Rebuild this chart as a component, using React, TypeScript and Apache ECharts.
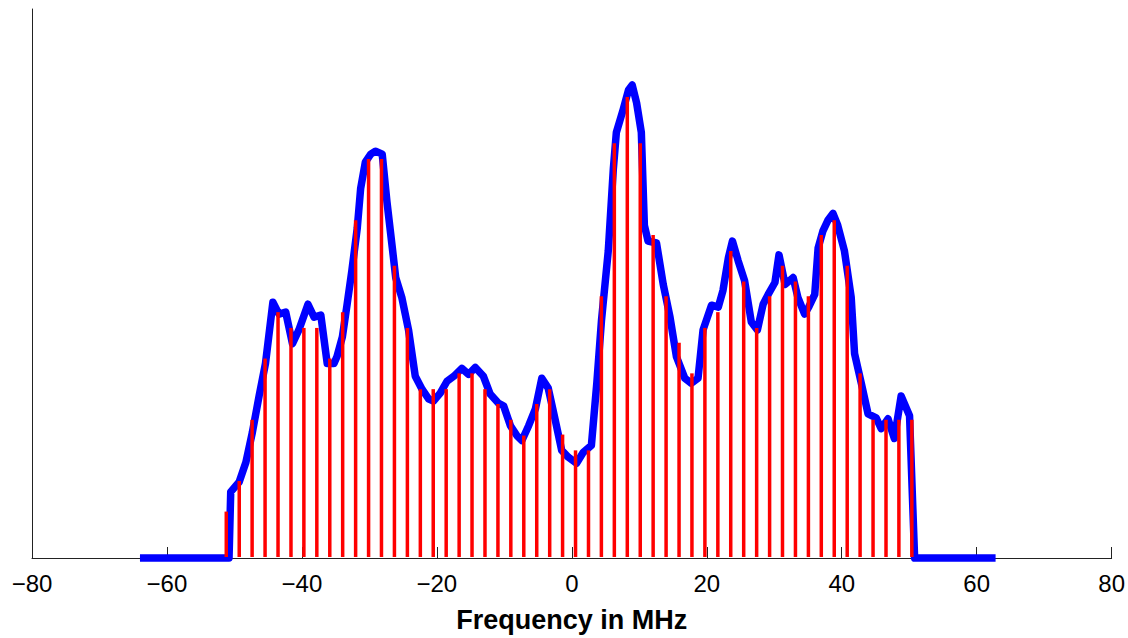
import React, { useEffect, useRef } from "react";
import * as echarts from "echarts";

// Tick labels of the frequency axis (MHz)
const xTicks = [-80, -60, -40, -20, 0, 20, 40, 60, 80];

// Red stems: subcarrier frequencies (MHz) and their magnitudes (arbitrary units)
const stemFreq = [
  -51.21, -49.29, -47.38, -45.46, -43.54, -41.62, -39.71, -37.79, -35.87, -33.96,
  -32.04, -30.12, -28.21, -26.29, -24.37, -22.45, -20.54, -18.62, -16.7, -14.79,
  -12.87, -10.95, -9.04, -7.12, -5.2, -3.28, -1.37, 0.55, 2.47, 4.38,
  6.3, 8.22, 10.14, 12.05, 13.97, 15.89, 17.8, 19.72, 21.64, 23.55,
  25.47, 27.39, 29.31, 31.22, 33.14, 35.06, 36.97, 38.89, 40.81, 42.72,
  44.64, 46.56, 48.47, 50.39,
];
const stemLevel = [
  47, 78, 140, 202, 249, 233, 233, 233, 202, 249,
  342, 404, 404, 296, 233, 171, 171, 171, 187, 187,
  171, 156, 140, 124, 156, 171, 125, 109, 109, 265,
  420, 467, 420, 327, 265, 218, 187, 233, 249, 311,
  280, 233, 265, 296, 280, 265, 327, 342, 296, 187,
  140, 140, 140, 140,
];

// Blue envelope: frequency (MHz) and level (same units as the stems)
const blueFreq = [
  -64.0, -50.8, -50.55, -49.3, -48.3, -47.35, -46.35, -45.4, -44.3, -43.4,
  -42.4, -41.4, -40.45, -39.1, -38.2, -37.2, -36.25, -35.25, -34.8, -34.0,
  -33.3, -32.6, -31.8, -31.3, -30.6, -29.8, -29.1, -28.1, -27.4, -26.6,
  -26.1, -25.2, -24.2, -23.2, -22.2, -21.2, -20.5, -19.5, -18.5, -17.5,
  -16.3, -15.3, -14.3, -13.1, -12.1, -10.9, -10.1, -9.1, -8.15, -7.4,
  -6.4, -5.4, -4.45, -3.5, -2.5, -1.5, -0.5, 0.7, 1.7, 2.9,
  3.7, 4.4, 5.4, 6.15, 6.6, 7.6, 8.4, 8.95, 9.6, 10.3,
  10.75, 11.3, 12.55, 13.55, 14.55, 15.5, 16.75, 17.7, 18.7, 19.45,
  20.7, 21.7, 22.4, 23.2, 23.8, 24.65, 25.6, 26.6, 27.5, 28.35,
  29.1, 30.1, 30.7, 31.6, 32.8, 33.5, 34.5, 35.1, 36.0, 36.5,
  37.2, 37.95, 38.7, 39.4, 40.4, 41.4, 41.9, 42.9, 43.9, 45.1,
  45.85, 46.85, 47.8, 48.8, 50.05, 50.8, 62.8,
];
const blueLevel = [
  0, 0, 67, 77, 97, 127, 164, 197, 259, 247,
  249, 217, 231, 257, 244, 246, 197, 197, 204, 224,
  257, 291, 334, 374, 401, 409, 412, 409, 361, 314,
  284, 264, 231, 184, 171, 161, 159, 167, 179, 184,
  192, 186, 193, 184, 166, 157, 154, 134, 124, 119,
  134, 151, 182, 172, 141, 109, 102, 96, 107, 114,
  177, 241, 311, 394, 431, 454, 474, 479, 461, 431,
  337, 321, 319, 277, 244, 204, 182, 177, 182, 231,
  256, 254, 271, 304, 321, 301, 281, 239, 231, 257,
  267, 279, 307, 277, 284, 264, 247, 254, 267, 314,
  331, 342, 349, 337, 311, 264, 207, 177, 146, 142,
  131, 141, 121, 164, 144, 0, 0,
];

const FONT = "'Liberation Sans', Arial, Helvetica, sans-serif";

export default function App() {
  const ref = useRef<HTMLDivElement>(null);

  useEffect(() => {
    if (!ref.current) return;
    const chart = echarts.init(ref.current, undefined, { renderer: "svg" });

    const stemData = stemFreq.map((f, i) => [f, stemLevel[i]]);
    const blueData = blueFreq.map((f, i) => [f, blueLevel[i]]);

    chart.setOption({
      animation: false,
      backgroundColor: "#ffffff",
      grid: { left: 32, right: 14, top: 9, bottom: 73, containLabel: false },
      xAxis: {
        type: "value",
        min: xTicks[0],
        max: xTicks[xTicks.length - 1],
        interval: 20,
        name: "Frequency in MHz",
        nameLocation: "middle",
        nameGap: 48,
        nameTextStyle: {
          fontFamily: FONT,
          fontSize: 27,
          fontWeight: "bold",
          color: "#000000",
        },
        axisLine: { show: true, onZero: false, lineStyle: { color: "#222222", width: 1 } },
        axisTick: { show: true, inside: true, length: 11, lineStyle: { color: "#222222", width: 1 } },
        axisLabel: {
          margin: 13,
          fontFamily: FONT,
          fontSize: 24,
          color: "#000000",
          formatter: (v: number) => String(v).replace("-", "\u2212"),
        },
        splitLine: { show: false },
      },
      yAxis: {
        type: "value",
        min: 0,
        max: 556,
        axisLine: { show: true, onZero: false, lineStyle: { color: "#222222", width: 1 } },
        axisTick: { show: false },
        axisLabel: { show: false },
        splitLine: { show: false },
      },
      series: [
        {
          type: "line",
          data: blueData,
          showSymbol: false,
          symbol: "none",
          clip: false,
          z: 2,
          lineStyle: { color: "#0000ff", width: 7.5, join: "round", cap: "butt" },
        },
        {
          type: "custom",
          data: stemData,
          z: 3,
          clip: false,
          encode: { x: 0, y: 1 },
          renderItem: (_params: any, api: any) => {
            const x = api.value(0);
            const y = api.value(1);
            const p0 = api.coord([x, 0]);
            const p1 = api.coord([x, y]);
            return {
              type: "line",
              shape: { x1: p0[0], y1: p0[1] - 1, x2: p1[0], y2: p1[1] },
              style: { stroke: "#ff0000", lineWidth: 3.5 },
            };
          },
        },
      ],
    });

    return () => chart.dispose();
  }, []);

  return (
    <div
      ref={ref}
      style={{ position: "absolute", left: 0, top: 0, width: 1128, height: 638 }}
    />
  );
}
